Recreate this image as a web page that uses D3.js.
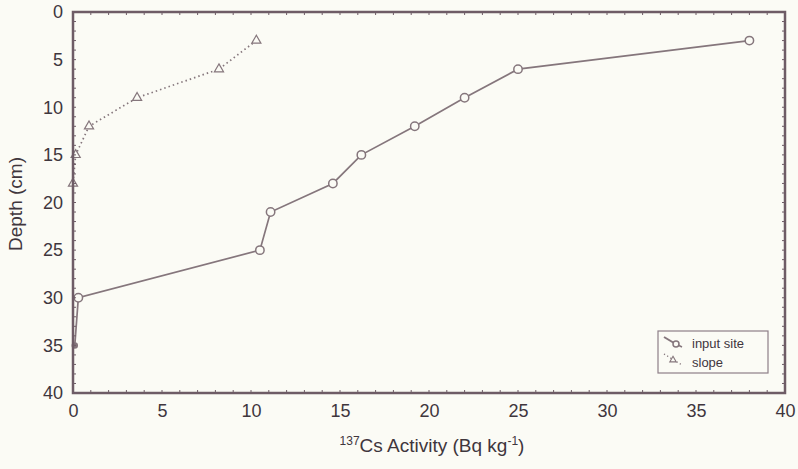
<!DOCTYPE html>
<html>
<head>
<meta charset="utf-8">
<script src="https://cdn.jsdelivr.net/npm/d3@7"></script>
<style>
  html, body { margin: 0; padding: 0; background: #fbfbf5; }
  svg { display: block; font-family: "Liberation Sans", Arial, sans-serif; }
</style>
</head>
<body>
<div id="chart"></div>
<script>
// input site profile (circles, solid)
const inputActivity = [38, 25, 22, 19.2, 16.2, 14.6, 11.1, 10.5, 0.3, 0.1];
const inputDepth    = [3, 6, 9, 12, 15, 18, 21, 25, 30, 35];

// slope profile (triangles, dotted)
const slopeActivity = [10.3, 8.2, 3.6, 0.9, 0.15, 0];
const slopeDepth    = [3, 6, 9, 12, 15, 18];

const xTicks = [0, 5, 10, 15, 20, 25, 30, 35, 40];
const yTicks = [0, 5, 10, 15, 20, 25, 30, 35, 40];
const minorTicks = d3.range(0, 41, 1);

const width = 798, height = 469;
const margin = { top: 12, right: 13, bottom: 76, left: 73 };
const bg = '#fbfbf5';
const axisColor = '#6e5c66';
const lineColor = '#85767c';
const textColor = '#3f363d';

const svg = d3.select('#chart')
  .append('svg')
  .attr('width', width)
  .attr('height', height);

const x = d3.scaleLinear()
  .domain([0, 40])
  .range([margin.left, width - margin.right]);

const y = d3.scaleLinear()
  .domain([0, 40])
  .range([margin.top, height - margin.bottom]);

// lines
const inputData = inputActivity.map((a, i) => ({ a, d: inputDepth[i] }));
const slopeData = slopeActivity.map((a, i) => ({ a, d: slopeDepth[i] }));

const line = d3.line().x(p => x(p.a)).y(p => y(p.d));

svg.append('path')
  .datum(inputData)
  .attr('d', line)
  .attr('fill', 'none')
  .attr('stroke', lineColor)
  .attr('stroke-width', 1.7);

svg.append('path')
  .datum(slopeData)
  .attr('d', line)
  .attr('fill', 'none')
  .attr('stroke', lineColor)
  .attr('stroke-width', 1.7)
  .attr('stroke-dasharray', '1.5,3');

// markers (points on the axis are mostly hidden by it, as in the original)
svg.selectAll('.circ').data(inputData).enter().append('circle')
  .attr('cx', p => x(p.a)).attr('cy', p => y(p.d))
  .attr('r', p => p.a < 0.2 ? 2.5 : 4.2)
  .attr('fill', p => p.a < 0.2 ? lineColor : bg)
  .attr('stroke', lineColor)
  .attr('stroke-width', 1.5);

const tri = d3.symbol().type(d3.symbolTriangle).size(36);
svg.selectAll('.tri').data(slopeData).enter().append('path')
  .attr('d', tri)
  .attr('transform', p => `translate(${x(p.a)},${y(p.d)})`)
  .attr('fill', bg)
  .attr('stroke', lineColor)
  .attr('stroke-width', 1.2);

// minor ticks on all four sides, pointing inward
const minor = svg.append('g').attr('stroke', axisColor).attr('stroke-width', 1);
minor.selectAll('.tb').data(minorTicks).enter().append('line')
  .attr('x1', d => x(d)).attr('x2', d => x(d))
  .attr('y1', y(40)).attr('y2', y(40) - 3);
minor.selectAll('.tt').data(minorTicks).enter().append('line')
  .attr('x1', d => x(d)).attr('x2', d => x(d))
  .attr('y1', y(0)).attr('y2', y(0) + 3);
minor.selectAll('.tl').data(minorTicks).enter().append('line')
  .attr('y1', d => y(d)).attr('y2', d => y(d))
  .attr('x1', x(0)).attr('x2', x(0) + 3);
minor.selectAll('.tr').data(minorTicks).enter().append('line')
  .attr('y1', d => y(d)).attr('y2', d => y(d))
  .attr('x1', x(40)).attr('x2', x(40) - 3);

// frame
svg.append('rect')
  .attr('x', x(0)).attr('y', y(0))
  .attr('width', x(40) - x(0)).attr('height', y(40) - y(0))
  .attr('fill', 'none')
  .attr('stroke', axisColor)
  .attr('stroke-width', 2.5);

// X axis labels
const xAxis = svg.append('g')
  .attr('transform', `translate(0,${y(40)})`)
  .call(d3.axisBottom(x).tickValues(xTicks).tickSize(0).tickPadding(11).tickFormat(d3.format('d')));
xAxis.select('.domain').remove();
xAxis.selectAll('text')
  .attr('font-size', 18)
  .attr('font-family', '"Liberation Sans", Arial, sans-serif')
  .attr('fill', textColor);

// Y axis labels
const yAxis = svg.append('g')
  .attr('transform', `translate(${x(0)},0)`)
  .call(d3.axisLeft(y).tickValues(yTicks).tickSize(0).tickPadding(10).tickFormat(d3.format('d')));
yAxis.select('.domain').remove();
yAxis.selectAll('text')
  .attr('font-size', 18)
  .attr('font-family', '"Liberation Sans", Arial, sans-serif')
  .attr('fill', textColor);

// axis titles
const xTitle = svg.append('text')
  .attr('x', 432).attr('y', 452)
  .attr('text-anchor', 'middle')
  .attr('font-size', 19)
  .attr('fill', textColor);
xTitle.append('tspan').attr('font-size', 12).attr('dy', -7).text('137');
xTitle.append('tspan').attr('dy', 7).text('Cs Activity (Bq kg');
xTitle.append('tspan').attr('font-size', 12).attr('dy', -7).text('-1');
xTitle.append('tspan').attr('dy', 7).text(')');

svg.append('text')
  .attr('transform', `translate(22,204) rotate(-90)`)
  .attr('text-anchor', 'middle')
  .attr('font-size', 19)
  .attr('fill', textColor)
  .text('Depth (cm)');

// legend
const lg = svg.append('g').attr('transform', 'translate(658,331)');
lg.append('rect')
  .attr('width', 110).attr('height', 42)
  .attr('fill', bg)
  .attr('stroke', '#8e7f88')
  .attr('stroke-width', 1.2);
lg.append('line')
  .attr('x1', 6).attr('y1', 6).attr('x2', 16).attr('y2', 12)
  .attr('stroke', lineColor).attr('stroke-width', 2);
lg.append('circle')
  .attr('cx', 18).attr('cy', 13).attr('r', 3)
  .attr('fill', bg).attr('stroke', lineColor).attr('stroke-width', 1.5);
lg.append('line')
  .attr('x1', 20).attr('y1', 14).attr('x2', 24).attr('y2', 16)
  .attr('stroke', lineColor).attr('stroke-width', 1.5);
lg.append('line')
  .attr('x1', 6).attr('y1', 23).attr('x2', 24).attr('y2', 34)
  .attr('stroke', lineColor).attr('stroke-width', 1.3).attr('stroke-dasharray', '1.2,2.5');
lg.append('path')
  .attr('d', d3.symbol().type(d3.symbolTriangle).size(18))
  .attr('transform', 'translate(15,29)')
  .attr('fill', bg).attr('stroke', lineColor).attr('stroke-width', 1.1);
lg.append('text').attr('x', 34).attr('y', 17).attr('font-size', 13).attr('fill', textColor).text('input site');
lg.append('text').attr('x', 34).attr('y', 36).attr('font-size', 13).attr('fill', textColor).text('slope');
</script>
</body>
</html>
